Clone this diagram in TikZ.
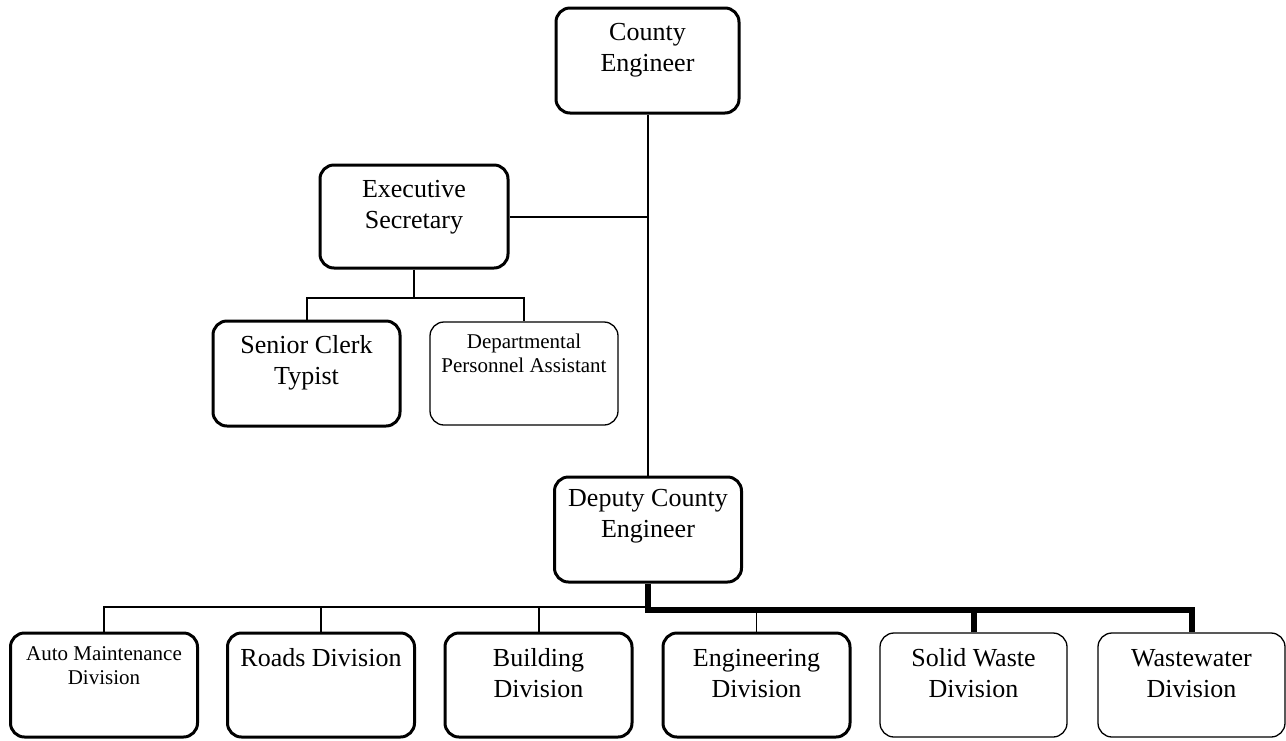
\documentclass[tikz,border=0pt]{standalone}
\usepackage{fontspec}
\setmainfont{Liberation Serif}
\begin{document}
\begin{tikzpicture}[x=1pt,y=-1pt,
  orgbox/.style={draw, rounded corners=14pt, minimum width=187pt, minimum height=104pt, inner sep=0pt},
  heavy/.style={line width=3pt},
  light/.style={line width=1.3pt},
  bigtxt/.style={font=\fontsize{26}{31}\selectfont, align=center, inner sep=0pt, anchor=north},
  smalltxt/.style={font=\fontsize{21}{24}\selectfont, align=center, inner sep=0pt, anchor=north},
  conn/.style={line width=2pt},
  thinconn/.style={line width=1.3pt},
  thickconn/.style={line width=6pt}]
\useasboundingbox (0,0) rectangle (1286,740);
% boxes
\node[orgbox,heavy,minimum width=183pt,minimum height=105pt] (ce) at (647.5,60.5) {};
\node[orgbox,heavy,minimum width=188pt,minimum height=103pt] (es) at (414,216.5) {};
\node[orgbox,heavy,minimum height=105pt] (sc) at (306.5,373.5) {};
\node[orgbox,light,minimum width=188pt,minimum height=103pt] (dp) at (524,373.5) {};
\node[orgbox,heavy,minimum height=105pt] (dce) at (648,529.5) {};
\node[orgbox,heavy] (b1) at (104,685) {};
\node[orgbox,heavy] (b2) at (321,685) {};
\node[orgbox,heavy] (b3) at (538.5,685) {};
\node[orgbox,heavy] (b4) at (756.5,685) {};
\node[orgbox,light] (b5) at (973.5,685) {};
\node[orgbox,light] (b6) at (1191.5,685) {};
% texts
\node[bigtxt] (tce) at (647.5,20) {\rule{0pt}{20pt}County\\Engineer};
\node[bigtxt] (tes) at (414,177) {\rule{0pt}{20pt}Executive\\Secretary};
\node[bigtxt] (tsc) at (306.5,333) {\rule{0pt}{20pt}Senior Clerk\\Typist};
\node[smalltxt] (tdp) at (524,328) {\rule{0pt}{20pt}Departmental\\Personnel Assistant};
\node[bigtxt] (tdce) at (648,486) {\rule{0pt}{20pt}Deputy County\\Engineer};
\node[smalltxt] (tb1) at (104,640.5) {\rule{0pt}{20pt}Auto Maintenance\\Division};
\node[bigtxt] (tb2) at (321,646) {\rule{0pt}{20pt}Roads Division};
\node[bigtxt] (tb3) at (538.5,646) {\rule{0pt}{20pt}Building\\Division};
\node[bigtxt] (tb4) at (756.5,646) {\rule{0pt}{20pt}Engineering\\Division};
\node[bigtxt] (tb5) at (973.5,646) {\rule{0pt}{20pt}Solid Waste\\Division};
\node[bigtxt] (tb6) at (1191.5,646) {\rule{0pt}{20pt}Wastewater\\Division};
% connectors
\coordinate (busL) at (648,607);
\coordinate (busR) at (648,610);
\draw[conn] (ce.south -| dce.north) -- (dce.north);
\draw[conn] (es.east) -- (es.east -| dce.north);
\draw[conn] (es.south) -- ++(0,28) coordinate (ej);
\draw[conn] (sc.north) |- (ej) -| (dp.north);
\draw[conn] (b1.north) |- (busL);
\draw[conn] (b2.north) -- (b2.north |- busL);
\draw[conn] (b3.north) -- (b3.north |- busL);
\draw[thinconn] (b4.north) -- (b4.north |- busR);
\draw[thickconn] (dce.south) -- (busR) -| (b6.north);
\draw[thickconn] (b5.north) -- (b5.north |- busR);
\end{tikzpicture}
\end{document}
